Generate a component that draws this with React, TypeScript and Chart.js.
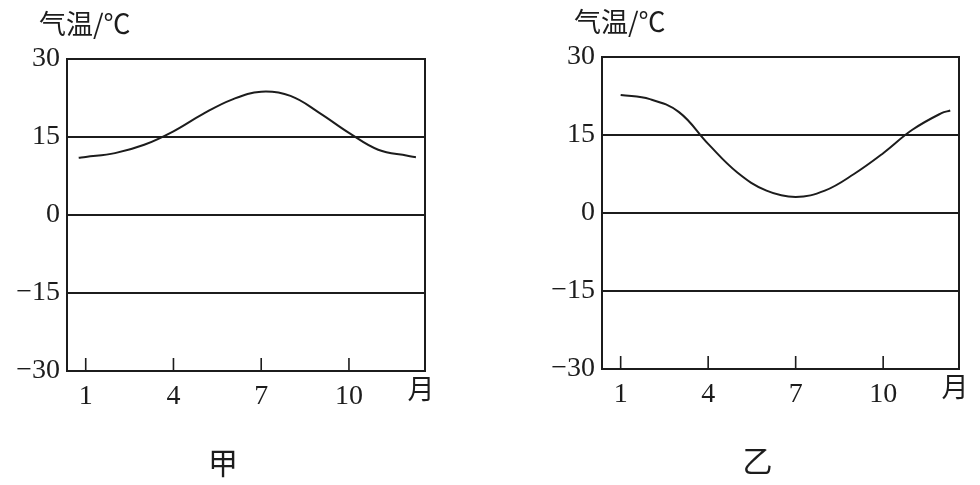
import React, { useEffect, useRef } from "react";
import { Chart, registerables } from "chart.js";

Chart.register(...registerables);

// ---- data ----
const monthsJia = [0.76, 1, 2, 3, 4, 5, 6, 7, 8, 9, 10, 11, 12, 12.29];
const tempsJia = [11.0, 11.15, 11.9, 13.5, 16.1, 19.4, 22.2, 23.7, 22.9, 19.6, 15.8, 12.55, 11.4, 11.1];

const monthsYi = [1, 2, 3, 4, 5, 6, 7, 8, 9, 10, 11, 12, 12.3];
const tempsYi = [22.7, 21.9, 19.4, 13.3, 7.8, 4.3, 3.1, 4.3, 7.5, 11.5, 16.0, 19.2, 19.7];

const monthTicks = [1, 4, 7, 10];
const tempTicks = [-30, -15, 0, 15, 30];
const yTitle = "气温/℃";
const monthUnit = "月";
const chartNames = ["甲", "乙"];

const INK = "#1c1c1c";
const SERIF = "'Liberation Serif', 'DejaVu Serif', serif";
const CJK = "'Noto Sans CJK SC', 'Noto Sans', sans-serif";

const W = 490;
const H = 485;
const XAXIS_H = 36;

type Area = { left: number; top: number; right: number; bottom: number };

const framePlugin = (name: string) => ({
  id: "frame",
  afterDraw(chart: any) {
    const { ctx, chartArea } = chart;
    const xs = chart.scales.x;
    const { left, top, right, bottom } = chartArea;
    ctx.save();
    ctx.strokeStyle = INK;
    ctx.lineWidth = 2;
    ctx.strokeRect(left, top, right - left, bottom - top);
    // inner tick marks
    ctx.beginPath();
    monthTicks.forEach((m) => {
      const px = xs.getPixelForValue(m);
      ctx.moveTo(px, bottom);
      ctx.lineTo(px, bottom - 13);
    });
    ctx.lineWidth = 1.6;
    ctx.stroke();
    // month unit
    ctx.fillStyle = INK;
    ctx.font = `27px ${CJK}`;
    ctx.textAlign = "center";
    ctx.textBaseline = "middle";
    ctx.fillText(monthUnit, right - 4, bottom + 18);
    // y title
    ctx.textAlign = "left";
    ctx.font = `27px ${CJK}`;
    ctx.fillText(yTitle, left - 28, top - 35);
    // chart name
    ctx.textAlign = "center";
    ctx.font = `30px ${CJK}`;
    ctx.fillText(name, (left + right) / 2 - 23, bottom + 92);
    ctx.restore();
  },
});

function ClimateChart({
  months,
  temps,
  name,
  area,
  offsetX,
}: {
  months: number[];
  temps: number[];
  name: string;
  area: Area;
  offsetX: number;
}) {
  const ref = useRef<HTMLCanvasElement | null>(null);
  useEffect(() => {
    if (!ref.current) return;
    const chart = new Chart(ref.current, {
      type: "line",
      data: {
        datasets: [
          {
            data: months.map((m, i) => ({ x: m, y: temps[i] })),
            borderColor: INK,
            borderWidth: 2,
            pointRadius: 0,
            tension: 0.4,
            fill: false,
          },
        ],
      },
      options: {
        animation: false,
        responsive: false,
        devicePixelRatio: 1,
        layout: {
          padding: {
            left: 0,
            top: area.top,
            right: W - area.right,
            bottom: H - area.bottom - XAXIS_H,
          },
        },
        plugins: {
          legend: { display: false },
          tooltip: { enabled: false },
        },
        scales: {
          x: {
            type: "linear",
            min: 0.36,
            max: 12.6,
            afterBuildTicks: (s: any) => {
              s.ticks = monthTicks.map((v) => ({ value: v }));
            },
            afterFit: (s: any) => {
              s.height = XAXIS_H;
            },
            grid: { display: false },
            border: { display: false },
            ticks: {
              color: INK,
              font: { family: SERIF, size: 28 },
              padding: 1,
              maxRotation: 0,
              autoSkip: false,
              callback: (v: any) => String(v),
            },
          },
          y: {
            type: "linear",
            min: -30,
            max: 30,
            afterBuildTicks: (s: any) => {
              s.ticks = tempTicks.map((v) => ({ value: v }));
            },
            afterFit: (s: any) => {
              s.width = area.left;
            },
            grid: { color: INK, lineWidth: 2, drawTicks: false },
            border: { display: false },
            ticks: {
              color: INK,
              font: { family: SERIF, size: 28 },
              padding: 7,
              callback: (v: any) => (v < 0 ? "\u2212" + Math.abs(v) : String(v)),
            },
          },
        },
      },
      plugins: [framePlugin(name)],
    } as any);
    return () => chart.destroy();
  }, [months, temps, name, area]);

  return (
    <canvas
      ref={ref}
      width={W}
      height={H}
      style={{ position: "absolute", left: offsetX, top: 0, width: W, height: H }}
    />
  );
}

const areaJia: Area = { left: 67, top: 59, right: 425, bottom: 371 };
const areaYi: Area = { left: 112, top: 57, right: 469, bottom: 369 };

export default function App() {
  return (
    <div
      style={{
        position: "absolute",
        left: 0,
        top: 0,
        width: 980,
        height: 485,
        background: "#fff",
        overflow: "hidden",
      }}
    >
      <ClimateChart months={monthsJia} temps={tempsJia} name={chartNames[0]} area={areaJia} offsetX={0} />
      <ClimateChart months={monthsYi} temps={tempsYi} name={chartNames[1]} area={areaYi} offsetX={490} />
    </div>
  );
}
